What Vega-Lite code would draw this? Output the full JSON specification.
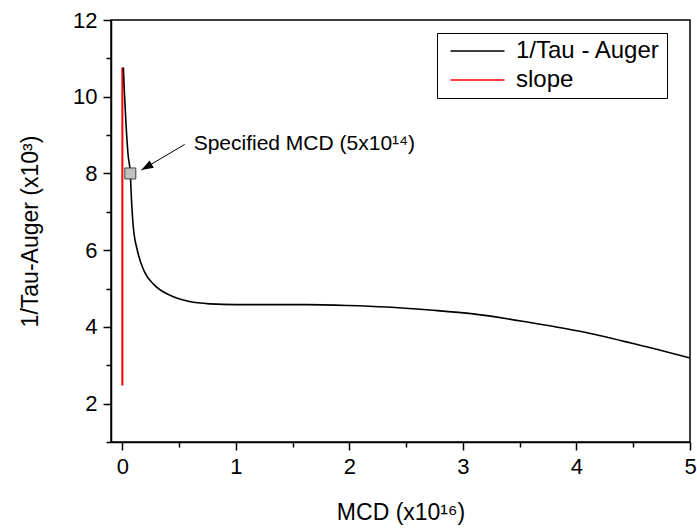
{
  "$schema": "https://vega.github.io/schema/vega-lite/v6.json",
  "width": 579,
  "height": 422,
  "autosize": "none",
  "padding": {"left": 111, "top": 20, "right": 7, "bottom": 87},
  "background": "white",
  "config": {
    "font": "Liberation Sans",
    "view": {"stroke": "black", "strokeWidth": 1.5},
    "axis": {
      "grid": false,
      "domainColor": "black",
      "domainWidth": 1.5,
      "tickColor": "black",
      "tickWidth": 1.5,
      "labelColor": "black",
      "titleColor": "black",
      "labelFontSize": 22,
      "titleFontSize": 23,
      "titleFontWeight": "normal",
      "labelFont": "Liberation Sans",
      "titleFont": "Liberation Sans",
      "labelOverlap": false
    }
  },
  "datasets": {
    "curve": [
      {"MCD": 0.009, "value": 10.76},
      {"MCD": 0.018, "value": 10.11},
      {"MCD": 0.033, "value": 9.25},
      {"MCD": 0.05, "value": 8.5},
      {"MCD": 0.07, "value": 8.0},
      {"MCD": 0.08, "value": 7.34},
      {"MCD": 0.095, "value": 6.65},
      {"MCD": 0.135, "value": 5.96},
      {"MCD": 0.194, "value": 5.44},
      {"MCD": 0.283, "value": 5.09},
      {"MCD": 0.415, "value": 4.83},
      {"MCD": 0.59, "value": 4.66},
      {"MCD": 0.77, "value": 4.6},
      {"MCD": 1.0, "value": 4.58},
      {"MCD": 1.3, "value": 4.58},
      {"MCD": 1.62, "value": 4.58},
      {"MCD": 1.98, "value": 4.56},
      {"MCD": 2.33, "value": 4.52},
      {"MCD": 2.71, "value": 4.44},
      {"MCD": 3.09, "value": 4.34},
      {"MCD": 3.6, "value": 4.11},
      {"MCD": 4.04, "value": 3.88},
      {"MCD": 4.48, "value": 3.58},
      {"MCD": 5.0, "value": 3.19}
    ],
    "slope": [
      {"MCD": 0.0, "value": 2.47},
      {"MCD": 0.0, "value": 10.76}
    ],
    "marker": [
      {"MCD": 0.07, "value": 8.0}
    ],
    "arrow": [
      {"MCD": 0.549, "value": 8.756, "order": 1},
      {"MCD": 0.167, "value": 8.087, "order": 2}
    ],
    "arrowhead": [
      {"MCD": 0.167, "value": 8.087}
    ],
    "note": [
      {"MCD": 0.628, "value": 8.756, "label": "Specified MCD (5x10¹⁴)"}
    ]
  },
  "encoding": {
    "x": {
      "field": "MCD",
      "type": "quantitative",
      "scale": {"domain": [-0.1, 5], "nice": false, "zero": false},
      "axis": {
        "title": "MCD (x10¹⁶)",
        "values": [0, 0.5, 1, 1.5, 2, 2.5, 3, 3.5, 4, 4.5, 5],
        "labelExpr": "datum.value % 1 === 0 ? format(datum.value, 'd') : ''",
        "tickSize": {"condition": {"test": "datum.value % 1 !== 0", "value": 5}, "value": 8},
        "labelPadding": 6,
        "titlePadding": 24,
        "labelFlush": false
      }
    },
    "y": {
      "field": "value",
      "type": "quantitative",
      "scale": {"domain": [1, 12], "nice": false, "zero": false},
      "axis": {
        "title": "1/Tau-Auger (x10³)",
        "values": [1, 2, 3, 4, 5, 6, 7, 8, 9, 10, 11, 12],
        "labelExpr": "datum.value % 2 === 0 ? format(datum.value, 'd') : ''",
        "tickSize": {"condition": {"test": "datum.value % 2 !== 0", "value": 5}, "value": 8},
        "labelPadding": 6,
        "titlePadding": 30,
        "labelFlush": false
      }
    }
  },
  "layer": [
    {
      "data": {"name": "slope"},
      "mark": {"type": "line", "strokeWidth": 2},
      "encoding": {
        "color": {
          "datum": "slope",
          "scale": {"domain": ["1/Tau - Auger", "slope"], "range": ["black", "#ff0000"]},
          "legend": {
            "title": null,
            "orient": "none",
            "legendX": 326,
            "legendY": 13,
            "symbolType": "M-0.5,0L5.5,0",
            "symbolSize": 324,
            "symbolStrokeWidth": 1.5,
            "labelFontSize": 24,
            "labelFont": "Liberation Sans",
            "labelColor": "black",
            "strokeColor": "black",
            "fillColor": "white",
            "padding": 6,
            "rowPadding": 5,
            "labelOffset": 49,
            "labelLimit": 300
          }
        }
      }
    },
    {
      "data": {"name": "curve"},
      "mark": {"type": "line", "strokeWidth": 1.6, "interpolate": "monotone"},
      "encoding": {
        "color": {"datum": "1/Tau - Auger"}
      }
    },
    {
      "data": {"name": "arrow"},
      "mark": {"type": "line", "strokeWidth": 1, "color": "black"},
      "encoding": {"order": {"field": "order"}}
    },
    {
      "data": {"name": "arrowhead"},
      "mark": {"type": "point", "shape": "M0,0 L0.35,1 L-0.35,1 Z", "size": 576, "angle": 240, "filled": true, "color": "black", "opacity": 1}
    },
    {
      "data": {"name": "marker"},
      "mark": {"type": "square", "size": 121, "fill": "#c0c0c0", "stroke": "#404040", "strokeWidth": 1, "opacity": 1}
    },
    {
      "data": {"name": "note"},
      "mark": {"type": "text", "align": "left", "baseline": "middle", "fontSize": 21, "font": "Liberation Sans", "color": "black"},
      "encoding": {"text": {"field": "label"}}
    }
  ]
}
